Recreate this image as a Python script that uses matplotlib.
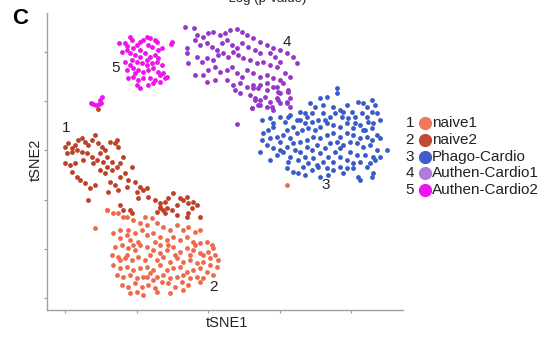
import numpy as np
import matplotlib
matplotlib.use("Agg")
import matplotlib.pyplot as plt
from matplotlib.lines import Line2D

plt.rcParams["font.family"] = ["Liberation Sans", "DejaVu Sans"]

# tSNE embedding, one list of (tSNE1, tSNE2) points per cluster
naive1 = [(95,72),(107,90),(113,87),(127,83),(133,80),(140,77),(147,75),(152,82),(157,77),(163,73),
          (170,70),(177,75),(183,70),(188,73),(195,68),(200,70),(113,67),(120,70),(127,65),(130,60),
          (135,67),(142,70),(147,65),(153,67),(160,63),(167,60),(173,63),(180,60),(187,63),(193,58),
          (200,57),(207,58),(212,55),(115,53),(122,55),(128,52),(135,50),(140,55),(147,53),(153,50),
          (160,55),(167,50),(173,53),(180,48),(187,52),(193,50),(200,47),(208,48),(215,45),(218,40),
          (112,45),(118,43),(125,42),(132,40),(138,43),(145,40),(150,45),(157,40),(163,43),(170,38),
          (177,42),(183,38),(190,40),(197,37),(203,38),(210,35),(217,33),(113,35),(120,32),(127,33),
          (133,30),(140,32),(147,33),(153,30),(160,35),(167,30),(173,32),(180,33),(187,28),(193,30),
          (200,32),(207,28),(213,25),(117,25),(123,23),(130,25),(137,22),(143,23),(150,27),(157,23),
          (163,25),(170,22),(177,23),(183,25),(190,22),(197,23),(203,22),(122,15),(128,13),(135,17),
          (142,13),(148,15),(155,12),(162,18),(168,17),(175,13),(182,18),(188,15),(130,7),(137,8),
          (143,5),(157,8),(170,7),(120,40),(127,45),(138,58),(190,45),(195,55),(160,47),(147,23),
          (183,10),(120,62),(133,55),(155,58),(175,45),(203,45),(213,52),(210,42),(200,18),(153,20),
          (128,70),(168,55),(107,90),(118,87),(123,83),(145,83),(287,115)]

naive2 = [(65,153),(68,157),(72,152),(75,155),(78,160),(82,162),(85,158),(88,155),(92,160),(95,165),
          (98,157),(102,153),(105,150),(110,158),(115,157),(118,153),(117,160),(67,147),(72,148),(77,150),
          (82,148),(87,147),(92,143),(97,140),(100,147),(107,143),(112,138),(65,137),(70,135),(75,137),
          (72,128),(77,123),(80,120),(85,117),(90,112),(95,115),(100,130),(105,127),(107,133),(112,130),
          (117,133),(120,123),(125,127),(128,120),(120,137),(132,133),(110,118),(115,115),(118,110),(108,108),
          (88,100),(127,113),(135,118),(140,113),(137,108),(143,110),(147,112),(148,103),(138,102),(155,100),
          (160,97),(165,98),(168,102),(173,107),(180,102),(183,100),(187,103),(188,97),(193,98),(197,95),
          (192,92),(167,92),(160,92),(157,88),(177,95),(172,90),(165,87),(187,83),(200,83),(83,140),
          (93,137),(103,138),(123,143),(98,191),(120,95),(123,90),(130,90),(132,87),(160,93),(163,90),
          (177,85),(188,87)]

phago = [(337,212),(337,207),(327,203),(320,202),(310,197),(315,193),(305,187),(307,183),(323,195),(333,193),
         (340,190),(347,195),(352,188),(358,198),(363,197),(367,193),(372,200),(375,195),(377,187),(380,180),
         (372,188),(367,183),(362,187),(355,183),(348,182),(342,183),(335,187),(330,183),(323,187),(318,180),
         (312,178),(305,177),(300,180),(293,173),(287,170),(280,183),(273,177),(268,170),(263,167),(262,160),
         (270,162),(277,163),(283,165),(290,162),(297,167),(302,170),(308,172),(315,170),(320,173),(327,177),
         (333,175),(340,173),(347,177),(353,172),(360,175),(365,170),(372,172),(377,165),(372,160),(367,163),
         (360,162),(353,165),(347,167),(340,163),(333,167),(327,165),(320,162),(313,163),(307,160),(300,158),
         (293,157),(287,153),(280,150),(273,152),(270,140),(277,145),(283,148),(290,143),(288,138),(287,132),
         (293,128),(298,127),(305,125),(312,130),(317,135),(313,142),(320,147),(325,152),(330,157),(337,158),
         (343,155),(350,158),(357,157),(363,153),(370,155),(377,150),(387,150),(373,143),(375,140),(370,137),
         (367,133),(360,138),(353,137),(347,140),(340,143),(335,148),(328,143),(323,138),(318,133),(327,132),
         (333,130),(340,133),(347,132),(353,132),(358,123),(360,120),(372,123),(373,127),(380,143),(307,153),
         (300,148),(295,150),(308,137),(303,133),(298,140),(317,155),(312,150),(305,143),(280,158),(267,155),
         (260,148),(285,178),(290,185),(300,188),(312,187),(325,180),(343,188),(355,177),(368,178),(373,177),
         (380,162),(350,148),(357,145),(365,145),(343,127),(328,125),(320,123),(363,170),(340,152),(333,138),
         (262,180),(270,182),(273,173),(288,183),(297,180)]

authen1 = [(185,273),(194,272),(197,265),(203,263),(208,267),(213,268),(220,265),(225,267),(230,270),(237,271),
           (242,268),(247,265),(253,262),(260,258),(267,255),(273,252),(280,250),(187,252),(187,247),(188,237),
           (195,260),(200,255),(207,257),(212,253),(217,250),(222,257),(227,260),(232,255),(237,252),(242,257),
           (248,253),(255,250),(260,247),(270,247),(275,243),(197,243),(202,238),(207,242),(213,240),(218,245),
           (223,247),(228,243),(233,248),(238,245),(243,242),(250,240),(257,237),(263,238),(270,235),(277,233),
           (195,225),(203,225),(208,230),(215,233),(220,228),(227,230),(232,233),(237,227),(242,223),(247,230),
           (253,227),(260,223),(267,225),(273,222),(280,220),(207,218),(215,220),(227,220),(233,215),(240,217),
           (247,213),(253,212),(260,215),(267,210),(273,213),(278,208),(283,217),(235,210),(240,207),(255,202),
           (260,200),(265,203),(270,198),(277,202),(280,197),(287,198),(252,192),(258,195),(267,193),(273,190),
           (288,208),(290,223),(285,227),(280,238),(287,247),(293,243),(297,237),(237,176),(253,215),(258,212),
           (267,217),(277,213),(280,207),(288,210),(290,202),(287,197),(290,193),(250,205),(255,200),(252,192),
           (260,195),(272,193),(278,200)]

authen2 = [(119,257),(125,257),(130,263),(132,260),(127,254),(122,248),(127,250),(133,252),(137,255),(140,258),
           (143,260),(147,263),(150,262),(155,260),(157,258),(148,255),(152,253),(158,250),(162,252),(130,247),
           (135,245),(140,243),(145,247),(150,243),(155,245),(158,242),(132,240),(137,238),(142,237),(147,235),
           (152,237),(157,238),(162,235),(127,230),(133,232),(138,230),(143,228),(148,230),(153,232),(158,228),
           (163,227),(167,223),(128,222),(133,223),(138,220),(143,222),(150,222),(155,220),(160,218),(137,215),
           (140,212),(148,215),(153,217),(165,222),(130,235),(125,238),(140,250),(147,240),(160,225),(135,227),
           (172,258),(171,256),(91,197),(93,196),(96,195),(100,200),(102,203),(101,197),(99,196)]

cluster_ids = ["1", "2", "3", "4", "5"]
cluster_names = ["naive1", "naive2", "Phago-Cardio", "Authen-Cardio1", "Authen-Cardio2"]
cluster_points = [naive1, naive2, phago, authen1, authen2]
dot_colors = ["#ef6a4c", "#bd4129", "#3a5bc7", "#9438c8", "#f012ea"]
legend_colors = ["#f2785a", "#c04a31", "#3d5ecb", "#b37ade", "#ee12ee"]

# where the cluster numbers sit in tSNE space
label_x = [66, 213, 326, 287, 116]
label_y = [172, 13, 115, 258, 232]
plot_ids = ["1", "2", "3", "4", "5"]

W, H = 542, 338
fig = plt.figure(figsize=(W / 100, H / 100), dpi=100)
ax = fig.add_axes([47 / W, 1 - 310 / H, (403 - 47) / W, (310 - 13) / H])

for pts, c in zip(cluster_points, dot_colors):
    arr = np.array(pts)
    ax.scatter(arr[:, 0], arr[:, 1], s=12, color=c, linewidths=0)

for t, x, y in zip(plot_ids, label_x, label_y):
    ax.text(x, y, t, fontsize=11, ha="center", va="center", color="#222222")

ax.set_xlim(47, 403)
ax.set_ylim(-10, 287)
ax.set_xticks([65, 136.5, 208, 279.5, 351])
ax.set_yticks([2, 51.2, 100.4, 149.6, 198.8, 248])
ax.set_xticklabels([])
ax.set_yticklabels([])
ax.tick_params(length=2, width=0.8, color="#999999")
for side in ["top", "right"]:
    ax.spines[side].set_visible(False)
for side in ["left", "bottom"]:
    ax.spines[side].set_color("#a0a0a0")
    ax.spines[side].set_linewidth(1)

fig.text(227 / W, 1 - 323 / H, "tSNE1", fontsize=10.5, ha="center", va="center", color="#222222")
fig.text(36 / W, 1 - 160 / H, "tSNE2", fontsize=10.5, ha="center", va="center",
         rotation=90, color="#222222")
fig.text(12 / W, 1 - 18 / H, "C", fontsize=16, fontweight="bold", ha="left", va="center")
fig.text(265 / W, 1 - 2 / H, "-Log (p-value)", fontsize=9.5, ha="center", va="baseline",
         color="#222222")

# legend drawn by hand: number, dot, name
for i, (n, name, c) in enumerate(zip(cluster_ids, cluster_names, legend_colors)):
    yy = 1 - (123 + i * 16.8) / H
    fig.text(410 / W, yy, n, fontsize=11, ha="center", va="center", color="#222222")
    fig.add_artist(Line2D([425 / W], [yy], marker="o", markersize=8.5, color=c,
                          transform=fig.transFigure))
    fig.text(432 / W, yy, name, fontsize=11, ha="left", va="center", color="#222222")

fig.savefig("out.png", dpi=100)
